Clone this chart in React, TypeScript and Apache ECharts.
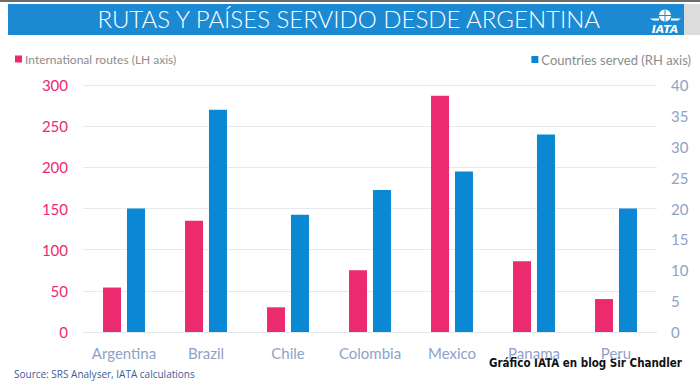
import React, { useEffect, useRef } from "react";
import * as echarts from "echarts";

const categories = ["Argentina", "Brazil", "Chile", "Colombia", "Mexico", "Panama", "Peru"];
const routes = [54, 135, 30, 75, 287, 86, 40];
const countries = [20, 36, 19, 23, 26, 32, 20];
const leftTicks = { min: 0, max: 300, interval: 50 };
const rightTicks = { min: 0, max: 40, interval: 5 };
const titleText = "RUTAS Y PAÍSES SERVIDO DESDE ARGENTINA";
const routesName = "International routes (LH axis)";
const countriesName = "Countries served (RH axis)";
const sourceText = "Source: SRS Analyser, IATA calculations";
const watermark = "Gráfico IATA en blog Sir Chandler";

const PINK = "#ec2a6e";
const BLUE = "#0a88d4";
const AXIS_BLUE = "#8ea2c8";
const FONT = "Lato, 'Open Sans', sans-serif";

export default function App() {
  const ref = useRef<HTMLDivElement>(null);
  useEffect(() => {
    if (!ref.current) return;
    const chart = echarts.init(ref.current, null, { renderer: "svg" });
    chart.setOption({
      animation: false,
      backgroundColor: "#ffffff",
      textStyle: { fontFamily: FONT },
      grid: { left: 83, right: 43, top: 85, bottom: 54, containLabel: false },
      legend: [
        {
          data: [routesName],
          left: 10,
          top: 48,
          icon: "rect",
          itemWidth: 7,
          itemHeight: 7,
          itemGap: 4,
          textStyle: { color: "#8c8c8c", fontSize: 12, fontFamily: FONT, padding: [0, 0, 0, -2] },
        },
        {
          data: [countriesName],
          right: 4,
          top: 48,
          icon: "rect",
          itemWidth: 7,
          itemHeight: 7,
          textStyle: { color: "#8c8c8c", fontSize: 13, fontFamily: FONT, padding: [0, 0, 0, -2] },
        },
      ],
      xAxis: {
        type: "category",
        data: categories,
        axisLine: { show: true, lineStyle: { color: "#e3e7ee" } },
        axisTick: { show: false },
        axisLabel: { color: AXIS_BLUE, fontSize: 15, margin: 13, fontFamily: FONT, interval: 0 },
      },
      yAxis: [
        {
          type: "value",
          ...leftTicks,
          axisLine: { show: false },
          axisTick: { show: false },
          axisLabel: { color: PINK, fontSize: 15, margin: 15, fontFamily: FONT },
          splitLine: { show: true, lineStyle: { color: "#e6e9f0", width: 1 } },
        },
        {
          type: "value",
          ...rightTicks,
          position: "right",
          axisLine: { show: false },
          axisTick: { show: false },
          axisLabel: { color: AXIS_BLUE, fontSize: 15, margin: 14, fontFamily: FONT },
          splitLine: { show: false },
        },
      ],
      series: [
        {
          name: routesName,
          type: "bar",
          yAxisIndex: 0,
          data: routes,
          barWidth: 18,
          barGap: "33%",
          itemStyle: { color: PINK },
        },
        {
          name: countriesName,
          type: "bar",
          yAxisIndex: 1,
          data: countries,
          barWidth: 18,
          itemStyle: { color: BLUE },
        },
      ],
      graphic: [
        { type: "rect", left: 0, top: 0, shape: { width: 700, height: 2 }, style: { fill: "#6d6d6d" } },
        { type: "rect", left: 8, top: 4, shape: { width: 676, height: 31 }, style: { fill: "#1b8ad3" } },
        { type: "rect", left: 684, top: 4, shape: { width: 16, height: 31 }, style: { fill: "#dcdcdc" } },
        {
          type: "text",
          left: "center",
          top: 6,
          style: {
            text: titleText,
            fill: "#ffffff",
            fontSize: 24,
            fontWeight: 300,
            fontFamily: FONT,
          },
        },
        {
          type: "group",
          left: 650,
          top: 7,
          children: [
            { type: "circle", shape: { cx: 15, cy: 7, r: 6 }, style: { fill: "#ffffff" } },
            { type: "line", shape: { x1: 9, y1: 7, x2: 21, y2: 7 }, style: { stroke: "#1b8ad3", lineWidth: 1 } },
            { type: "line", shape: { x1: 15, y1: 1, x2: 15, y2: 13 }, style: { stroke: "#1b8ad3", lineWidth: 1 } },
            { type: "polygon", shape: { points: [[0, 10], [9, 10], [9, 12], [3, 12]] }, style: { fill: "#ffffff" } },
            { type: "polygon", shape: { points: [[21, 10], [31, 10], [28, 12], [21, 12]] }, style: { fill: "#ffffff" } },
            {
              type: "text",
              x: 15,
              y: 15,
              style: {
                text: "IATA",
                fill: "#ffffff",
                fontSize: 11,
                fontWeight: "bold",
                fontStyle: "italic",
                fontFamily: "'DejaVu Sans', sans-serif",
                align: "center",
              },
            },
          ],
        },
        {
          type: "text",
          left: 14,
          top: 369,
          style: { text: sourceText, fill: "#3b5d94", fontSize: 10, fontFamily: "'Open Sans', sans-serif" },
        },
        {
          type: "text",
          left: 489,
          top: 357,
          style: {
            text: watermark,
            fill: "#111111",
            fontSize: 11.5,
            fontWeight: "bold",
            fontFamily: "'DejaVu Sans Condensed', 'DejaVu Sans', sans-serif",
          },
        },
      ],
    });
    return () => chart.dispose();
  }, []);
  return (
    <div
      ref={ref}
      style={{ position: "fixed", left: 0, top: 0, width: 700, height: 386 }}
    />
  );
}
